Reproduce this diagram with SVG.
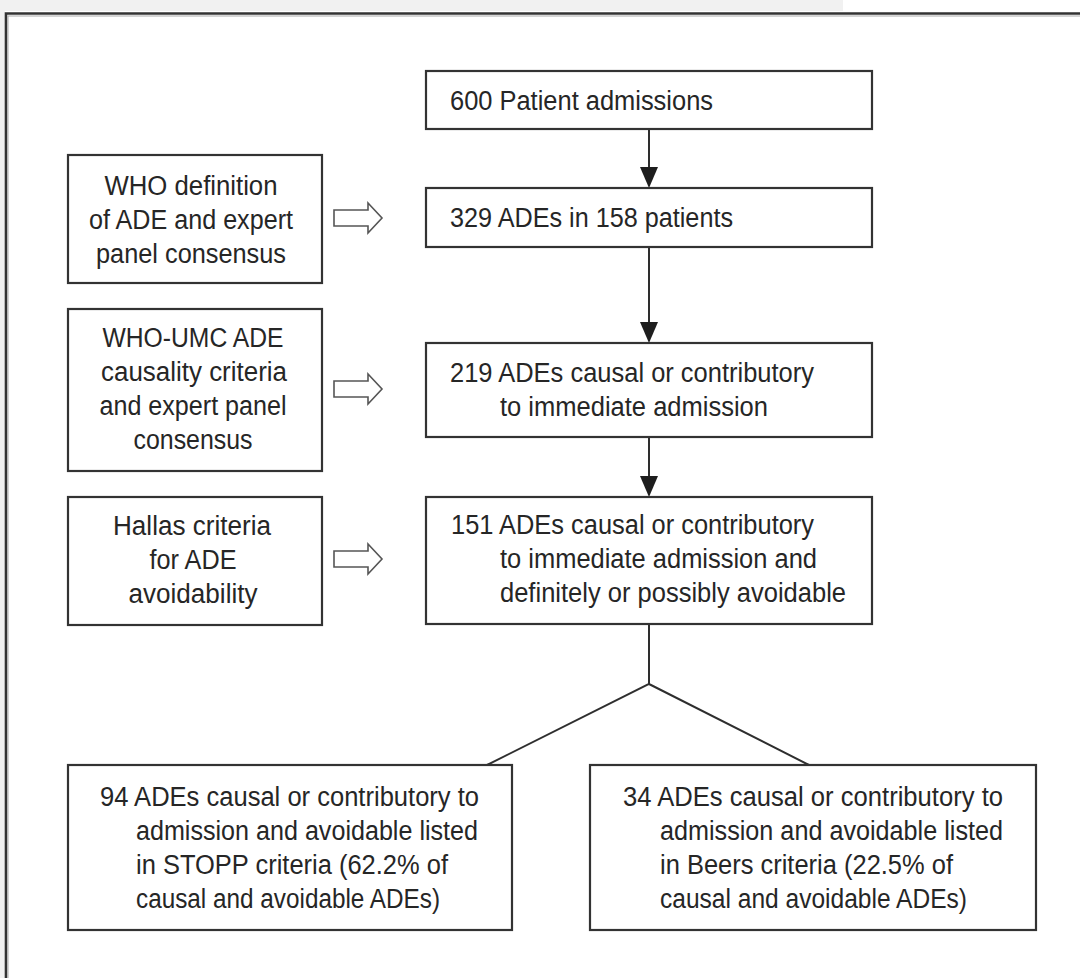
<svg xmlns="http://www.w3.org/2000/svg" width="1080" height="978" viewBox="0 0 1080 978">
<style>
.box{fill:#fff;stroke:#333;stroke-width:2.2}
.shadow{fill:none;stroke:#777;stroke-width:1.2}
.t{font-family:"Liberation Sans Narrow","Liberation Sans",Arial,sans-serif;font-size:27px;fill:#262626}
.c{text-anchor:middle}
.ln{stroke:#2e2e2e;stroke-width:2;fill:none}
.hol{fill:#fff;stroke:#555;stroke-width:1.6;stroke-linejoin:miter}
.ah{fill:#1e1e1e}
</style>
<rect x="0" y="0" width="1080" height="978" fill="#fff"/>
<rect x="0" y="0" width="843" height="11" fill="#f1f1f1"/>
<rect x="0" y="0" width="5" height="978" fill="#f1f1f1"/>
<path d="M6,978 V13.5 H1080" fill="none" stroke="#333" stroke-width="2.6"/>
<path d="M8,978 V16 H1080" fill="none" stroke="#aaa" stroke-width="1"/>

<g id="connectors">
<line class="ln" x1="649" y1="129" x2="649" y2="172"/>
<path class="ah" d="M640,167 L658,167 L649,188 Z"/>
<line class="ln" x1="649" y1="247" x2="649" y2="327"/>
<path class="ah" d="M640,322 L658,322 L649,343 Z"/>
<line class="ln" x1="649" y1="437" x2="649" y2="481"/>
<path class="ah" d="M640,476 L658,476 L649,497 Z"/>
<path class="ln" d="M649,624 V684 L487,765 M649,684 L809,765"/>
<polygon class="hol" points="334,210 368,210 368,203 382,218 368,233 368,226 334,226"/>
<polygon class="hol" points="334,381 368,381 368,374 382,389 368,404 368,397 334,397"/>
<polygon class="hol" points="334,551 368,551 368,544 382,559 368,574 368,567 334,567"/>
</g>

<g id="n1">
<rect class="box" x="426" y="71" width="446" height="58"/>
<text class="t" x="450" y="110" textLength="263" lengthAdjust="spacingAndGlyphs">600 Patient admissions</text>
</g>
<g id="n2">
<rect class="box" x="426" y="188" width="446" height="59"/>
<text class="t" x="450" y="227" textLength="283" lengthAdjust="spacingAndGlyphs">329 ADEs in 158 patients</text>
</g>
<g id="n3">
<rect class="box" x="426" y="343" width="446" height="94"/>
<text class="t" x="450" y="382" textLength="364" lengthAdjust="spacingAndGlyphs">219 ADEs causal or contributory</text>
<text class="t" x="500" y="416" textLength="268" lengthAdjust="spacingAndGlyphs">to immediate admission</text>
</g>
<g id="n4">
<rect class="box" x="426" y="497" width="446" height="127"/>
<text class="t" x="451" y="534" textLength="363" lengthAdjust="spacingAndGlyphs">151 ADEs causal or contributory</text>
<text class="t" x="500" y="568" textLength="317" lengthAdjust="spacingAndGlyphs">to immediate admission and</text>
<text class="t" x="500" y="602" textLength="346" lengthAdjust="spacingAndGlyphs">definitely or possibly avoidable</text>
</g>
<g id="l1">
<rect class="box" x="68" y="155" width="254" height="128"/>
<text class="t c" x="191" y="195" textLength="173" lengthAdjust="spacingAndGlyphs">WHO definition</text>
<text class="t c" x="191" y="229" textLength="204" lengthAdjust="spacingAndGlyphs">of ADE and expert</text>
<text class="t c" x="191" y="263" textLength="190" lengthAdjust="spacingAndGlyphs">panel consensus</text>
</g>
<g id="l2">
<rect class="box" x="68" y="309" width="254" height="162"/>
<text class="t c" x="193" y="347" textLength="181" lengthAdjust="spacingAndGlyphs">WHO-UMC ADE</text>
<text class="t c" x="194" y="381" textLength="186" lengthAdjust="spacingAndGlyphs">causality criteria</text>
<text class="t c" x="193" y="415" textLength="187" lengthAdjust="spacingAndGlyphs">and expert panel</text>
<text class="t c" x="193" y="449" textLength="119" lengthAdjust="spacingAndGlyphs">consensus</text>
</g>
<g id="l3">
<rect class="box" x="68" y="497" width="254" height="128"/>
<text class="t c" x="192" y="535" textLength="158" lengthAdjust="spacingAndGlyphs">Hallas criteria</text>
<text class="t c" x="193" y="569" textLength="87" lengthAdjust="spacingAndGlyphs">for ADE</text>
<text class="t c" x="193" y="603" textLength="129" lengthAdjust="spacingAndGlyphs">avoidability</text>
</g>
<g id="b1">
<rect class="box" x="68" y="765" width="444" height="165"/>
<text class="t" x="100" y="806" textLength="379" lengthAdjust="spacingAndGlyphs">94 ADEs causal or contributory to</text>
<text class="t" x="136" y="840" textLength="342" lengthAdjust="spacingAndGlyphs">admission and avoidable listed</text>
<text class="t" x="136" y="874" textLength="312" lengthAdjust="spacingAndGlyphs">in STOPP criteria (62.2% of</text>
<text class="t" x="136" y="908" textLength="304" lengthAdjust="spacingAndGlyphs">causal and avoidable ADEs)</text>
</g>
<g id="b2">
<rect class="box" x="590" y="765" width="446" height="165"/>
<text class="t" x="623" y="806" textLength="380" lengthAdjust="spacingAndGlyphs">34 ADEs causal or contributory to</text>
<text class="t" x="660" y="840" textLength="343" lengthAdjust="spacingAndGlyphs">admission and avoidable listed</text>
<text class="t" x="660" y="874" textLength="293" lengthAdjust="spacingAndGlyphs">in Beers criteria (22.5% of</text>
<text class="t" x="660" y="908" textLength="307" lengthAdjust="spacingAndGlyphs">causal and avoidable ADEs)</text>
</g>
</svg>
